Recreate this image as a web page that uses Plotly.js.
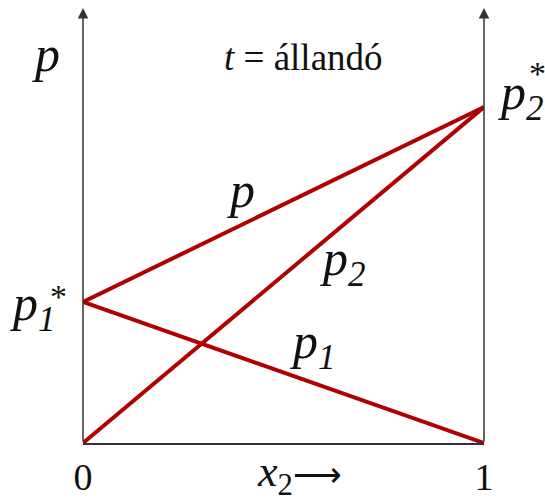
<!DOCTYPE html>
<html>
<head>
<meta charset="utf-8">
<script src="https://cdn.plot.ly/plotly-3.0.1.min.js"></script>
<style>
  html, body { margin: 0; padding: 0; background: #fff; }
  #chart { width: 545px; height: 502px; }
</style>
</head>
<body>
<div id="chart"></div>
<script>
// Mole fraction of component 2 (ends of the composition axis)
const x2 = [0, 1];
// Vapour pressures of the pure components (relative units)
const p1Star = 0.42;
const p2Star = 1.0;
// Partial pressures and total pressure along the composition axis (Raoult's law)
const p1 = [p1Star, 0];
const p2 = [0, p2Star];
const pTotal = [p1Star, p2Star];
// Tick labels on the composition axis
const tickVals = [0, 1];
const tickText = ['0', '1'];

const W = 545, H = 502;
const M = { l: 83, r: 61, t: 8, b: 59 };
const yTop = 1.295;
const red = '#b10000';
const axisCol = '#333333';
const serif = 'Liberation Serif, Times New Roman, serif';

// pixel -> paper helpers for label placement
const plotW = W - M.l - M.r, plotH = H - M.t - M.b;
const px = v => (v - M.l) / plotW;
const py = v => (H - M.b - v) / plotH;

function lineTrace(y, name) {
  return {
    x: x2, y: y, name: name, type: 'scatter', mode: 'lines',
    line: { color: red, width: 4 }, cliponaxis: false, hoverinfo: 'skip'
  };
}

const data = [
  lineTrace(p1, 'p1'),
  lineTrace(p2, 'p2'),
  lineTrace(pTotal, 'p')
];

function label(text, x, y, size, xanchor, yanchor) {
  return {
    text: text, xref: 'paper', yref: 'paper', x: px(x), y: py(y),
    xanchor: xanchor || 'center', yanchor: yanchor || 'middle',
    showarrow: false, font: { family: serif, size: size, color: '#111' }
  };
}

function axisArrow(xv) {
  return {
    x: xv, y: yTop, ax: xv, ay: 0, xref: 'x', yref: 'y', axref: 'x', ayref: 'y',
    text: '', showarrow: true, arrowhead: 2, arrowsize: 1.4, arrowwidth: 1.5,
    arrowcolor: axisCol, standoff: 0, startstandoff: 0
  };
}

const annotations = [
  axisArrow(0),
  axisArrow(1),
  label('<i>p</i>', 46, 54, 50),
  label('<i>t</i> = állandó', 303, 57, 37),
  label('<i>p</i><sub><i>2</i></sub>', 496, 96, 50, 'left'),
  label('*', 537, 73, 34),
  label('<i>p</i><sub><i>1</i></sub>', 8, 307, 50, 'left'),
  label('*', 58, 297, 34),
  label('<i>p</i>', 241, 190, 50),
  label('<i>p</i><sub><i>2</i></sub>', 318, 262, 50, 'left'),
  label('<i>p</i><sub><i>1</i></sub>', 288, 345, 50, 'left'),
  label('<i>x</i><sub>2</sub><span style="font-size:34px">⟶</span>', 255, 474, 44, 'left')
];

const layout = {
  width: W, height: H,
  margin: M,
  paper_bgcolor: '#ffffff', plot_bgcolor: '#ffffff',
  showlegend: false,
  xaxis: {
    range: [0, 1], showgrid: false, zeroline: false,
    showline: true, linecolor: axisCol, linewidth: 1.5,
    tickmode: 'array', tickvals: tickVals, ticktext: tickText,
    ticks: '', ticklen: 0,
    tickfont: { family: serif, size: 38, color: '#111' }
  },
  yaxis: {
    range: [0, yTop], showgrid: false, zeroline: false,
    showline: false, showticklabels: false, ticks: ''
  },
  annotations: annotations
};

Plotly.newPlot('chart', data, layout, { staticPlot: true, displayModeBar: false });
</script>
</body>
</html>
